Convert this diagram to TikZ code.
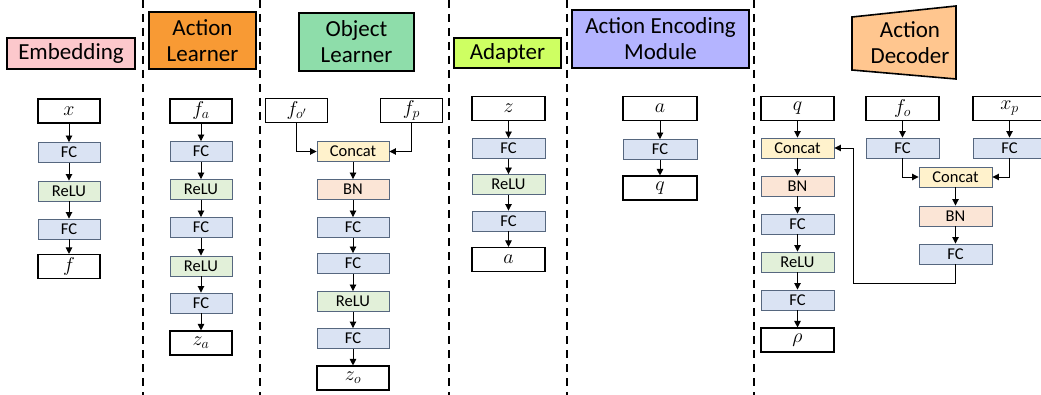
\RequirePackage{fix-cm}
\documentclass[tikz,border=0pt]{standalone}
\usepackage{fontspec}
\setmainfont{Carlito}
\usetikzlibrary{arrows.meta}
\definecolor{fcfill}{HTML}{DAE3F3}
\definecolor{relufill}{HTML}{E2F0D9}
\definecolor{bnfill}{HTML}{FBE5D6}
\definecolor{catfill}{HTML}{FFF2CC}
\definecolor{layerborder}{HTML}{56677F}
\definecolor{embfill}{HTML}{FCC8CC}
\definecolor{alfill}{HTML}{F89A34}
\definecolor{olfill}{HTML}{8EDDAA}
\definecolor{adfill}{HTML}{CEFF62}
\definecolor{aemfill}{HTML}{B4B4FF}
\definecolor{decfill}{HTML}{FFC68F}
\begin{document}
\begin{tikzpicture}[x=1pt,y=-1pt,
  io/.style={draw=black, line width=1.1pt, fill=white, minimum width=#1, minimum height=24pt, inner sep=0pt, font=\fontsize{20}{22}\selectfont},
  io/.default=62pt,
  layer/.style={draw=layerborder, line width=0.9pt, minimum width=#1, minimum height=20pt, inner sep=0pt, font=\fontsize{16.5}{18}\selectfont},
  layer/.default=62pt,
  fcb/.style={layer=#1, fill=fcfill}, fcb/.default=62pt,
  relub/.style={layer=#1, fill=relufill}, relub/.default=62pt,
  bnb/.style={layer=#1, fill=bnfill}, bnb/.default=62pt,
  catb/.style={layer=#1, fill=catfill}, catb/.default=62pt,
  hdr/.style={draw=black, line width=1.6pt, align=center, inner sep=0pt, font=\fontsize{23}{26}\selectfont},
  arr/.style={-{Triangle[length=6.5pt,width=6.5pt]}, line width=0.9pt, black},
  sep/.style={line width=2.2pt, dash pattern=on 8pt off 6pt}
]
\useasboundingbox (0,0) rectangle (1041,395);

% separators
\foreach \xx in {143,260,449,567,754} \draw[sep] (\xx,0) -- (\xx,395);

% headers
\node[hdr, fill=embfill, minimum width=128pt, minimum height=31pt] (hemb) at (71,53.5) {Embedding};
\node[hdr, fill=alfill, minimum width=107pt, minimum height=57pt] (hal) at (202.5,40.5) {Action\\Learner};
\node[hdr, fill=olfill, minimum width=115pt, minimum height=58pt] (hol) at (356.5,42) {Object\\Learner};
\node[hdr, fill=adfill, minimum width=107pt, minimum height=30pt] (had) at (507.5,53) {Adapter};
\node[hdr, fill=aemfill, minimum width=177pt, minimum height=58pt] (haem) at (660.5,39) {Action Encoding\\Module};
\draw[line width=1.6pt, fill=decfill] (852,17) -- (956,6) -- (956,79) -- (852,70) -- cycle;
\node[align=center, inner sep=0pt, font=\fontsize{23}{26}\selectfont] (hdec) at (910,43) {Action\\Decoder};

% Column 1: Embedding
\node[io] (e0) at (69,111) {$x$};
\node[fcb] (e1) at (69,152.5) {FC};
\node[relub] (e2) at (69,191) {ReLU};
\node[fcb] (e3) at (69,229) {FC};
\node[io] (e4) at (69,266.5) {$f$};
\draw[arr] (e0) -- (e1);
\draw[arr] (e1) -- (e2);
\draw[arr] (e2) -- (e3);
\draw[arr] (e3) -- (e4);

% Column 2: Action Learner
\node[io] (a0) at (201,111) {$f_a$};
\node[fcb] (a1) at (201,151.5) {FC};
\node[relub] (a2) at (201,189.5) {ReLU};
\node[fcb] (a3) at (201,227.5) {FC};
\node[relub] (a4) at (201,266) {ReLU};
\node[fcb] (a5) at (201,303) {FC};
\node[io] (a6) at (201,343) {$z_a$};
\draw[arr] (a0) -- (a1);
\draw[arr] (a1) -- (a2);
\draw[arr] (a2) -- (a3);
\draw[arr] (a3) -- (a4);
\draw[arr] (a4) -- (a5);
\draw[arr] (a5) -- (a6);

% Column 3: Object Learner
\node[io] (o0) at (296.5,110.5) {$f_{o'}$};
\node[io] (op) at (411.5,110.5) {$f_p$};
\node[catb=72pt] (o1) at (353,151.5) {Concat};
\node[bnb=72pt] (o2) at (353,189.5) {BN};
\node[fcb=72pt] (o3) at (353,227.5) {FC};
\node[fcb=72pt] (o4) at (353,263.5) {FC};
\node[relub=72pt] (o5) at (353,301.5) {ReLU};
\node[fcb=72pt] (o6) at (353,338.5) {FC};
\node[io=72pt] (o7) at (353,378) {$z_o$};
\draw[arr] (o0.south) |- (o1.west);
\draw[arr] (op.south) |- (o1.east);
\draw[arr] (o1) -- (o2);
\draw[arr] (o2) -- (o3);
\draw[arr] (o3) -- (o4);
\draw[arr] (o4) -- (o5);
\draw[arr] (o5) -- (o6);
\draw[arr] (o6) -- (o7);

% Column 4: Adapter
\node[io=73pt] (d0) at (508.5,108.5) {$z$};
\node[fcb=73pt] (d1) at (508.5,148.5) {FC};
\node[relub=73pt] (d2) at (508.5,184.5) {ReLU};
\node[fcb=73pt] (d3) at (508.5,221) {FC};
\node[io=73pt] (d4) at (508.5,259.5) {$a$};
\draw[arr] (d0) -- (d1);
\draw[arr] (d1) -- (d2);
\draw[arr] (d2) -- (d3);
\draw[arr] (d3) -- (d4);

% Column 5: Action Encoding Module
\node[io=74pt] (m0) at (660,108.5) {$a$};
\node[fcb=74pt] (m1) at (660,149.5) {FC};
\node[io=74pt] (m2) at (660,188) {$q$};
\draw[arr] (m0) -- (m1);
\draw[arr] (m1) -- (m2);

% Column 6: Action Decoder
\node[io=73pt] (q0) at (797.5,108.5) {$q$};
\node[catb=73pt] (q1) at (797.5,148) {Concat};
\node[bnb=73pt] (q2) at (797.5,186) {BN};
\node[fcb=73pt] (q3) at (797.5,224) {FC};
\node[relub=73pt] (q4) at (797.5,262) {ReLU};
\node[fcb=73pt] (q5) at (797.5,300) {FC};
\node[io=73pt] (q6) at (797.5,340) {$\rho$};
\draw[arr] (q0) -- (q1);
\draw[arr] (q1) -- (q2);
\draw[arr] (q2) -- (q3);
\draw[arr] (q3) -- (q4);
\draw[arr] (q4) -- (q5);
\draw[arr] (q5) -- (q6);

\node[io=73pt] (r0) at (902.5,108.5) {$f_o$};
\node[fcb=73pt] (r1) at (902.5,148) {FC};
\node[io=73pt] (s0) at (1009.5,108.5) {$x_p$};
\node[fcb=73pt] (s1) at (1009.5,148) {FC};
\node[catb=73pt] (c1) at (955.5,177) {Concat};
\node[bnb=73pt] (c2) at (955.5,216) {BN};
\node[fcb=73pt] (c3) at (955.5,254) {FC};
\coordinate (fb) at (853,283);
\draw[arr] (r0) -- (r1);
\draw[arr] (s0) -- (s1);
\draw[arr] (r1.south) |- (c1.west);
\draw[arr] (s1.south) |- (c1.east);
\draw[arr] (c1) -- (c2);
\draw[arr] (c2) -- (c3);
\draw[arr] (c3.south) |- (fb) |- (q1.east);
\end{tikzpicture}
\end{document}
